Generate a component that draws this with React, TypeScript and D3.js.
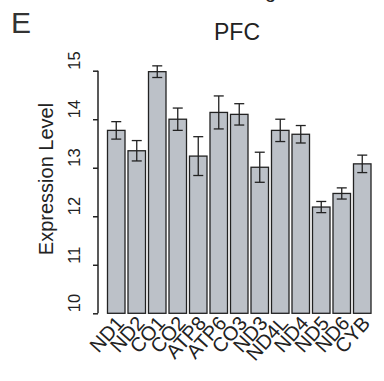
import * as d3 from 'd3';
import { useEffect, useRef } from 'react';

const genes = ['ND1', 'ND2', 'CO1', 'CO2', 'ATP8', 'ATP6', 'CO3', 'ND3', 'ND4L', 'ND4', 'ND5', 'ND6', 'CYB'];
const means = [13.77, 13.35, 14.98, 14.0, 13.24, 14.14, 14.1, 13.01, 13.77, 13.69, 12.19, 12.47, 13.08];
const errs = [0.18, 0.21, 0.12, 0.23, 0.4, 0.34, 0.22, 0.31, 0.23, 0.18, 0.115, 0.115, 0.18];
const yTicks = [10, 11, 12, 13, 14, 15];

const App = () => {
  const ref = useRef<SVGSVGElement | null>(null);

  const width = 384;
  const height = 381;
  const font = '"Liberation Sans", Arial, sans-serif';
  const ink = '#222';

  useEffect(() => {
    const svg = d3.select(ref.current!);
    svg.selectAll('*').remove();

    const x = d3.scaleBand()
      .domain(genes)
      .range([106.0, 106.0 + 20.5 * genes.length])
      .paddingInner(0.146)
      .paddingOuter(0.073);

    const y = d3.scaleLinear()
      .domain([10, 15])
      .range([313.3, 70.7]);

    // descender of the caption above, cut by the edge
    svg.append('text')
      .attr('x', 265).attr('y', -2)
      .attr('font-family', font).attr('font-size', 20).attr('fill', ink)
      .text('g');

    svg.append('text')
      .attr('x', 11).attr('y', 33)
      .attr('font-family', font).attr('font-size', 30).attr('fill', '#333')
      .text('E');

    svg.append('text')
      .attr('x', 237).attr('y', 39.5)
      .attr('text-anchor', 'middle')
      .attr('font-family', font).attr('font-size', 23).attr('fill', ink)
      .text('PFC');

    // y axis
    const yAxis = d3.axisLeft(y).tickValues(yTicks).tickSize(5).tickPadding(0).tickFormat(d3.format('d'));
    const ga = svg.append('g').attr('transform', 'translate(98,0)').call(yAxis);
    ga.select('.domain').remove();
    ga.selectAll('.tick line').attr('stroke', ink).attr('stroke-width', 1.5);
    ga.selectAll('.tick text').remove();
    ga.append('line')
      .attr('x1', 0).attr('x2', 0)
      .attr('y1', y(10)).attr('y2', y(15))
      .attr('stroke', ink).attr('stroke-width', 1.5);

    // labels sit just above their tick
    svg.append('g').selectAll('text')
      .data(yTicks)
      .join('text')
      .attr('transform', d => `translate(80,${y(d) - 1}) rotate(-90)`)
      .attr('text-anchor', 'start')
      .attr('font-family', font).attr('font-size', 16.5).attr('fill', ink)
      .text(d => d);

    svg.append('text')
      .attr('transform', `translate(53,179) rotate(-90)`)
      .attr('text-anchor', 'middle')
      .attr('font-family', font).attr('font-size', 20).attr('fill', ink)
      .text('Expression Level');

    // bars
    svg.append('g').selectAll('rect')
      .data(genes)
      .join('rect')
      .attr('x', d => x(d)!)
      .attr('width', x.bandwidth())
      .attr('y', (d, i) => y(means[i]))
      .attr('height', (d, i) => y(10) - y(means[i]))
      .attr('fill', '#bcc1c8')
      .attr('stroke', ink)
      .attr('stroke-width', 1.3);

    // error bars
    const eb = svg.append('g').attr('stroke', ink).attr('stroke-width', 1.3);
    genes.forEach((g, i) => {
      const cx = x(g)! + x.bandwidth() / 2;
      const top = y(means[i] + errs[i]);
      const bot = y(means[i] - errs[i]);
      eb.append('line').attr('x1', cx).attr('x2', cx).attr('y1', top).attr('y2', bot);
      eb.append('line').attr('x1', cx - 5).attr('x2', cx + 5).attr('y1', top).attr('y2', top);
      eb.append('line').attr('x1', cx - 5).attr('x2', cx + 5).attr('y1', bot).attr('y2', bot);
    });

    // rotated category labels
    svg.append('g').selectAll('text')
      .data(genes)
      .join('text')
      .attr('transform', d => `translate(${x(d)! + x.bandwidth() / 2 + 9},${324}) rotate(-48)`)
      .attr('text-anchor', 'end')
      .attr('font-family', font).attr('font-size', 20).attr('fill', ink)
      .text(d => d);
  }, []);

  return (
    <svg
      ref={ref}
      width={width}
      height={height}
      style={{ position: 'absolute', left: 0, top: 0, background: '#fff' }}
    />
  );
};

export default App;
